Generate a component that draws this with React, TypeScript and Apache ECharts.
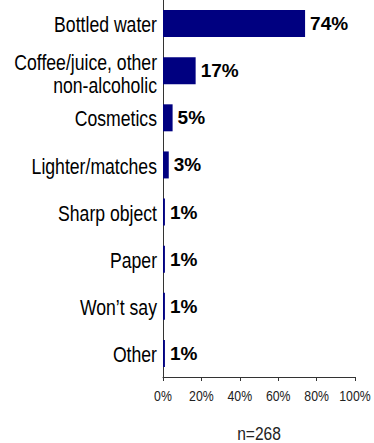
import React, { useEffect, useRef } from "react";
import * as echarts from "echarts";

const categories = [
  "Bottled water",
  "Coffee/juice, other\nnon-alcoholic",
  "Cosmetics",
  "Lighter/matches",
  "Sharp object",
  "Paper",
  "Won\u2019t say",
  "Other",
];
const values = [74, 17, 5, 3, 1, 1, 1, 1];
const xTicks = [0, 20, 40, 60, 80, 100];
const footnote = "n=268";

const SANS = "'Liberation Sans', Arial, sans-serif";
const NARROW_SCALE = 0.82;
const W = 374;
const H = 443;
const GRID = { left: 163, right: 19, top: 0, bottom: 66 };

export default function App() {
  const ref = useRef<HTMLDivElement>(null);
  useEffect(() => {
    document.body.style.margin = "0";
    const chart = echarts.init(ref.current!, undefined, { renderer: "svg" });
    chart.setOption({
      animation: false,
      textStyle: { fontFamily: SANS },
      grid: { ...GRID, containLabel: false, outerBoundsMode: "none" },
      xAxis: {
        type: "value",
        min: xTicks[0],
        max: xTicks[xTicks.length - 1],
        interval: 20,
        splitLine: { show: false },
        axisLine: { show: true, lineStyle: { color: "#333", width: 1 } },
        axisTick: { show: true, length: 4, lineStyle: { color: "#333" } },
        axisLabel: { show: false },
      },
      yAxis: {
        type: "category",
        data: categories,
        inverse: true,
        axisLine: { show: true, lineStyle: { color: "#333", width: 1 } },
        axisTick: { show: false },
        axisLabel: { show: false },
      },
      series: [
        {
          type: "bar",
          data: values,
          barWidth: 27,
          itemStyle: { color: "#000080" },
          label: {
            show: true,
            position: "right",
            formatter: "{c}%",
            color: "#000",
            fontWeight: "bold",
            fontSize: 19,
            fontFamily: SANS,
            distance: 5,
          },
        },
      ],
    });

    const x0 = chart.convertToPixel({ xAxisIndex: 0 }, xTicks[0]) as number;
    const axisY = H - GRID.bottom;
    const graphics: any[] = [];
    categories.forEach((c, i) => {
      const y = chart.convertToPixel({ yAxisIndex: 0 }, i) as number;
      const multi = c.indexOf("\n") >= 0;
      graphics.push({
        type: "text",
        x: x0 - 6,
        y: y + (multi ? 3 : 1),
        scaleX: NARROW_SCALE,
        style: {
          text: c,
          fontSize: 21.5,
          lineHeight: 23,
          fill: "#000",
          align: "right",
          verticalAlign: "middle",
          fontFamily: SANS,
        },
      });
    });
    xTicks.forEach((v) => {
      const x = chart.convertToPixel({ xAxisIndex: 0 }, v) as number;
      graphics.push({
        type: "text",
        x,
        y: axisY + 19,
        scaleX: NARROW_SCALE,
        style: {
          text: v + "%",
          fontSize: 15,
          fill: "#222",
          align: "center",
          verticalAlign: "middle",
          fontFamily: SANS,
        },
      });
    });
    const xMid =
      ((chart.convertToPixel({ xAxisIndex: 0 }, xTicks[0]) as number) +
        (chart.convertToPixel({ xAxisIndex: 0 }, xTicks[xTicks.length - 1]) as number)) /
      2;
    graphics.push({
      type: "text",
      x: xMid,
      y: axisY + 56,
      scaleX: NARROW_SCALE,
      style: {
        text: footnote,
        fontSize: 19,
        fill: "#222",
        align: "center",
        verticalAlign: "middle",
        fontFamily: SANS,
      },
    });
    chart.setOption({ graphic: graphics });
    return () => chart.dispose();
  }, []);
  return <div ref={ref} style={{ width: W, height: H }} />;
}
